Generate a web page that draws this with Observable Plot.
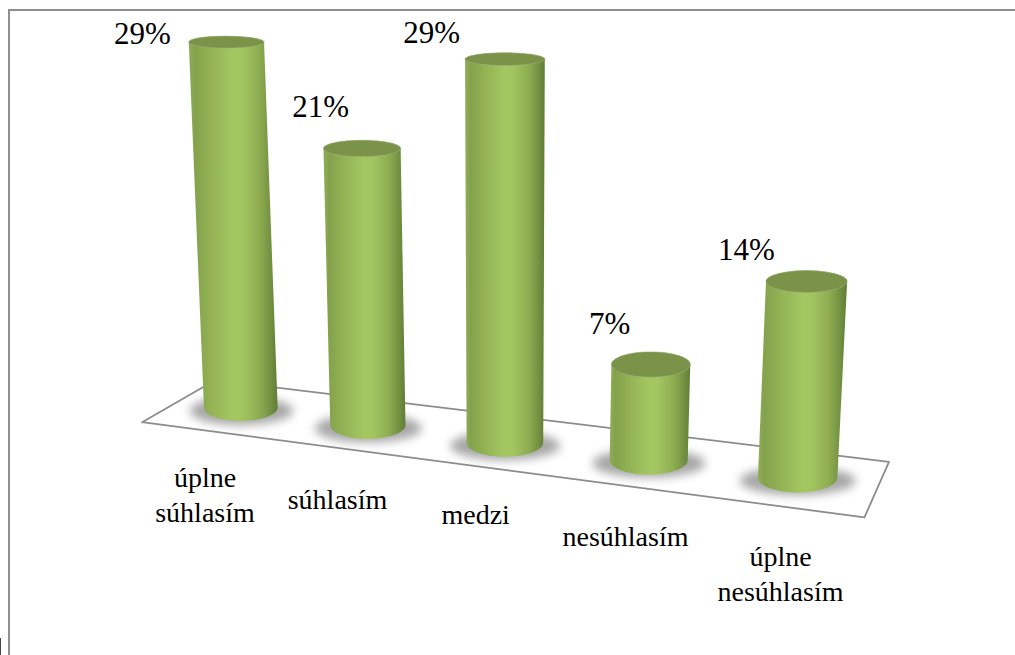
<!DOCTYPE html>
<html>
<head>
<meta charset="utf-8">
<script src="https://cdn.jsdelivr.net/npm/d3@7"></script>
<script src="https://cdn.jsdelivr.net/npm/@observablehq/plot@0.6"></script>
<style>
  html, body { margin: 0; padding: 0; background: #fff; overflow: hidden; }
  #page { position: relative; width: 1015px; height: 655px; }
  #page svg { display: block; position: absolute; left: 0; top: 0; }
  /* Picture border along the top and left, and the sliver of the neighbouring box */
  #border { position: absolute; left: 8px; top: 9px; right: 0; bottom: 0;
            border-left: 2px solid #8f8f8f; border-top: 2px solid #8f8f8f; z-index: 2; }
  #sliver { position: absolute; left: 0; top: 638px; width: 1px; bottom: 0; background: #444; }
</style>
</head>
<body>
<div id="page"><div id="border"></div><div id="sliver"></div></div>
<script>
// Survey answers and their shares in percent
const categories = ["úplne\nsúhlasím", "súhlasím", "medzi", "nesúhlasím", "úplne\nnesúhlasím"];
const shares = [29, 21, 29, 7, 14];

// Hand-placed label offsets in pixels, from each cylinder's base or top centre
const nameOffsets = [[-35, 86], [-30, 73], [-29, 70], [-23, 75], [-17, 95]];
const shareOffsets = [[-83, -8], [-41, -41], [-73, -26], [-41, -40], [-60, -31]];

// Fake 3D: the floor falls to the right and nearer cylinders appear larger
const pxPerUnit = 13;
const floorDrop = 1.346;
const depthPx = [12.6, 13.17, 13.22, 13.64, 14];
const baseY = i => -i * floorDrop;
const topY = (i, v) => baseY(i) + v * depthPx[i] / pxPerUnit;
const slot = i => i + 1;
const topX = (i, v) => slot(i) + (i - 2) * 0.0021 * v;
const radiusX = (i, rise) => (37 + 0.7 * i) / (121 * Math.pow(slot(i), 0.14)) * (1 + 0.0014 * rise);
const radiusY = y => 1.04 - 0.0206 * y;
const arc = d3.range(0, 41).map(k => (k / 40) * Math.PI);

// Side wall of each cylinder: front of the bottom rim, then back of the top rim
const bodies = shares.flatMap((v, i) => {
  const b = baseY(i), t = topY(i, v);
  const rb = radiusX(i, 0), rt = radiusX(i, v);
  return [
    ...arc.map(a => ({i, x: slot(i) + rb * Math.cos(a), y: b - radiusY(b) * Math.sin(a)})),
    ...arc.map(a => ({i, x: topX(i, v) - rt * Math.cos(a), y: t + radiusY(t) * Math.sin(a)}))
  ];
});

// Top caps
const caps = shares.flatMap((v, i) => {
  const t = topY(i, v), rt = radiusX(i, v);
  return d3.range(0, 81).map(k => {
    const a = (k / 80) * 2 * Math.PI;
    return {i, x: topX(i, v) + rt * Math.cos(a), y: t + radiusY(t) * Math.sin(a)};
  });
});

// Soft contact shadows under the cylinders
const shadows = shares.flatMap((v, i) => {
  const b = baseY(i) - 0.25;
  const rx = (52 + 1.5 * i) / (121 * Math.pow(slot(i), 0.14));
  return d3.range(0, 81).map(k => {
    const a = (k / 80) * 2 * Math.PI;
    return {i, x: slot(i) + rx * Math.cos(a), y: b + 1.1 * Math.sin(a)};
  });
});

// Floor quadrilateral, in the same slot and percent units
const floor = [
  {x: 0.104, y: -1.13}, {x: 0.79, y: 2.1}, {x: 5.6, y: -4.18}, {x: 5.44, y: -8.45}, {x: 0.104, y: -1.13}
];

// Gradient shared by the cylinder walls
const defs = () => {
  const d = d3.create("svg:defs");
  const g = d.append("linearGradient").attr("id", "wall")
    .attr("x1", 0).attr("x2", 1).attr("y1", 0).attr("y2", 0);
  [[0, "#8fae56"], [0.07, "#84a24c"], [0.28, "#95b556"], [0.5, "#a5c762"], [0.6, "#a3c560"],
   [0.8, "#8dac51"], [0.93, "#718f40"], [1, "#607c36"]]
    .forEach(([o, c]) => g.append("stop").attr("offset", o).attr("stop-color", c));
  return d.node();
};

const serif = "'Liberation Serif', 'Times New Roman', serif";

const plot = Plot.plot({
  width: 1015,
  height: 655,
  margin: 0,
  style: {background: "transparent", fontFamily: serif},
  x: {type: "pow", exponent: 1.14, domain: [1, 5], range: [239.5, 797], axis: null},
  y: {domain: [(407 - 655) / pxPerUnit, 407 / pxPerUnit], range: [655, 0], axis: null},
  marks: [
    defs,
    Plot.line(floor, {x: "x", y: "y", stroke: "#8c8c8c", strokeWidth: 1.8}),
    Plot.line(shadows, {x: "x", y: "y", z: "i", fill: "#8a8a8a", stroke: "none", fillOpacity: 0.75, imageFilter: "blur(5px)"}),
    Plot.line(bodies, {x: "x", y: "y", z: "i", fill: "url(#wall)", stroke: "none"}),
    Plot.line(caps, {x: "x", y: "y", z: "i", fill: "#7b9249", stroke: "#9fae82", strokeWidth: 0.6}),
    ...categories.map((name, i) => Plot.text([name], {
      x: () => slot(i), y: () => baseY(i), text: d => d,
      dx: nameOffsets[i][0], dy: nameOffsets[i][1],
      fontSize: 28, lineHeight: 1.25, fill: "#000", textAnchor: "middle"
    })),
    ...shares.map((v, i) => Plot.text([v], {
      x: () => topX(i, v), y: () => topY(i, v), text: d => `${d}%`,
      dx: shareOffsets[i][0], dy: shareOffsets[i][1],
      fontSize: 31, fill: "#000", textAnchor: "middle"
    }))
  ]
});
document.getElementById("page").prepend(plot);
</script>
</body>
</html>
